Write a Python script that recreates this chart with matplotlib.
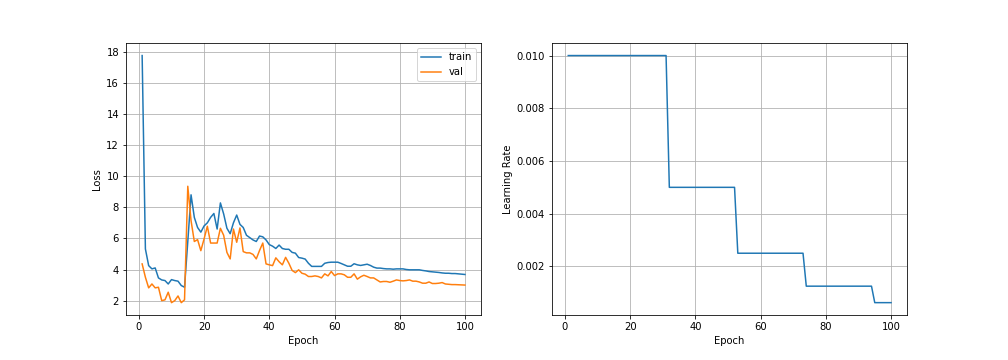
import matplotlib
matplotlib.use("Agg")
import matplotlib.pyplot as plt
import numpy as np

epochs = list(range(1, 101))

train_loss = [
    17.75, 5.32, 4.25, 4.04, 4.10, 3.46, 3.33, 3.29, 3.07, 3.35,
    3.29, 3.25, 2.97, 2.86, 5.80, 8.80, 7.35, 6.70, 6.40, 6.80,
    7.00, 7.35, 7.60, 6.60, 8.28, 7.57, 6.65, 6.30, 7.00, 7.50,
    6.90, 6.70, 6.20, 6.05, 5.90, 5.80, 6.15, 6.10, 5.90, 5.60,
    5.50, 5.35, 5.57, 5.35, 5.30, 5.30, 5.10, 5.05, 4.77, 4.73,
    4.67, 4.40, 4.20, 4.20, 4.20, 4.20, 4.40, 4.45, 4.47, 4.47,
    4.47, 4.39, 4.30, 4.21, 4.21, 4.37, 4.30, 4.26, 4.30, 4.34,
    4.26, 4.15, 4.09, 4.09, 4.06, 4.04, 4.04, 4.02, 4.04, 4.04,
    4.04, 4.00, 3.98, 3.98, 3.98, 3.98, 3.94, 3.91, 3.87, 3.85,
    3.83, 3.81, 3.78, 3.76, 3.76, 3.74, 3.74, 3.72, 3.70, 3.68,
]

val_loss = [
    4.36, 3.50, 2.82, 3.07, 2.82, 2.86, 2.00, 2.05, 2.54, 1.87,
    2.00, 2.30, 1.87, 2.05, 9.35, 7.14, 5.80, 5.92, 5.21, 5.97,
    6.78, 5.70, 5.70, 5.70, 6.65, 6.20, 5.10, 4.68, 6.60, 5.75,
    6.67, 5.15, 5.07, 5.07, 4.97, 4.68, 5.22, 5.70, 4.36, 4.30,
    4.25, 4.75, 4.50, 4.30, 4.78, 4.40, 3.94, 3.80, 3.98, 3.76,
    3.70, 3.55, 3.55, 3.59, 3.55, 3.46, 3.72, 3.59, 3.87, 3.61,
    3.72, 3.72, 3.66, 3.50, 3.50, 3.72, 3.38, 3.53, 3.63, 3.55,
    3.46, 3.46, 3.33, 3.20, 3.23, 3.23, 3.18, 3.25, 3.33, 3.29,
    3.27, 3.29, 3.33, 3.25, 3.25, 3.20, 3.12, 3.12, 3.20, 3.10,
    3.10, 3.12, 3.16, 3.07, 3.05, 3.03, 3.03, 3.02, 3.01, 3.00,
]

lr_levels = [0.01, 0.005, 0.0025, 0.00125, 0.000625]
lr_counts = [31, 21, 21, 21, 6]
learning_rate = [lv for lv, c in zip(lr_levels, lr_counts) for _ in range(c)]

fig, (ax1, ax2) = plt.subplots(1, 2, figsize=(14, 5), dpi=72)
fig.subplots_adjust(bottom=0.125)

ax1.plot(epochs, train_loss, label="train")
ax1.plot(epochs, val_loss, label="val")
ax1.set_xlabel("Epoch")
ax1.set_ylabel("Loss")
ax1.legend(loc="upper right")
ax1.grid(True)

ax2.plot(epochs, learning_rate)
ax2.set_xlabel("Epoch")
ax2.set_ylabel("Learning Rate")
ax2.grid(True)

fig.savefig("out.png", dpi=72)
